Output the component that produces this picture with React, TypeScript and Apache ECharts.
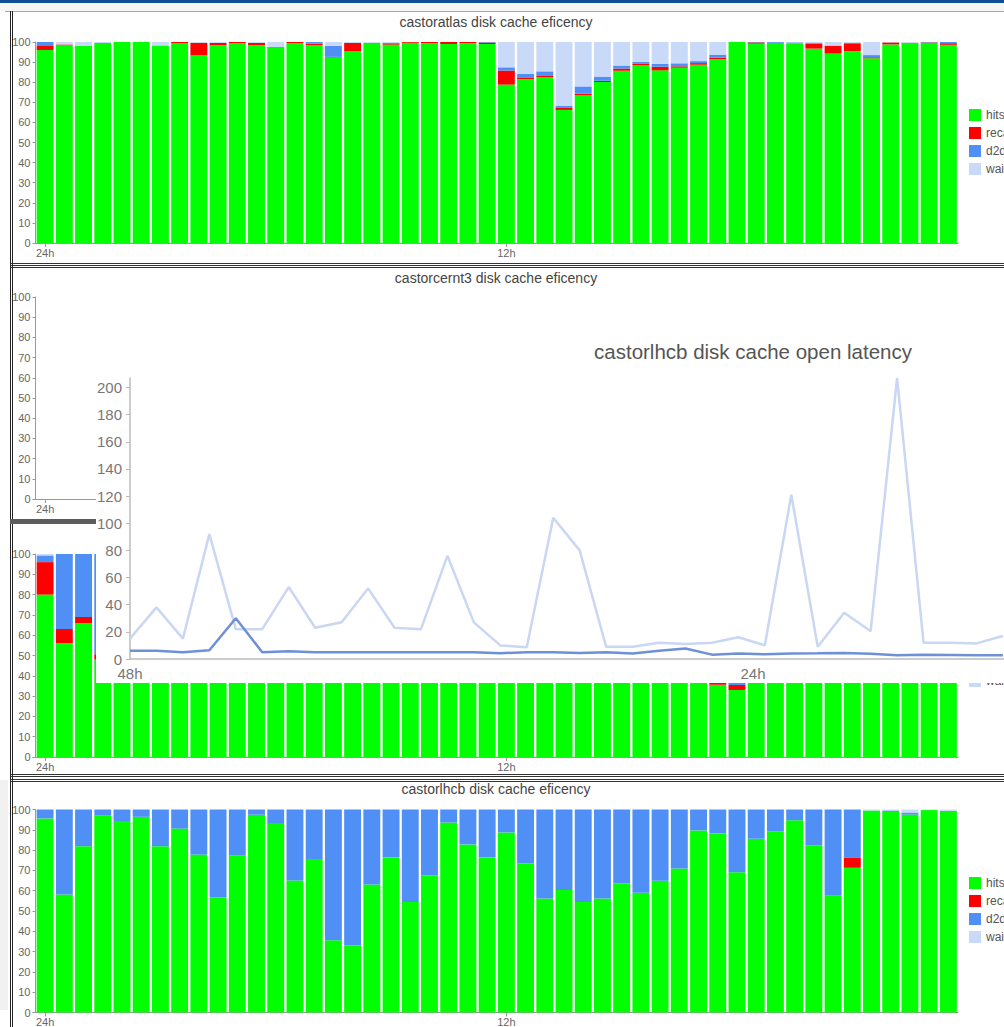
import React, { useEffect, useRef } from "react";
import * as echarts from "echarts";

const FONT = "'Liberation Sans', Arial, Helvetica, sans-serif";

// ---- efficiency panels: 48 half-hour slots, 24h ago -> now ----
const slotLabels: string[] = Array.from({ length: 48 }, (_, i) => `${24 - i / 2}h`);
const SHOWN_SLOTS = [0, 24];

const seriesNames = ["hits", "recalls", "d2d", "wait"];
const seriesColors = ["#00ff00", "#ff0000", "#5090f6", "#c8daf7"];
const effTicks = [0, 10, 20, 30, 40, 50, 60, 70, 80, 90, 100];

// castoratlas
const atlasHits = [96, 98.5, 98, 99.5, 100, 100, 98, 99.5, 93.3, 98.5, 99.5, 98.5, 97.5, 99.5, 98.5, 92.3, 95.3, 99.6, 98.7, 99.6, 99.5, 99, 99.5, 99,
  78.8, 81.6, 82.6, 66.2, 73.6, 80.1, 85.7, 88.4, 85.9, 87.2, 88.7, 91.4, 100, 99.2, 99.6, 99.4, 96.7, 94.2, 95.4, 91.9, 98.8, 99.3, 99.6, 98.6];
const atlasRecalls = [2, 0.3, 0, 0, 0, 0, 0.2, 0.5, 6.3, 1, 0.5, 1, 0, 0.5, 0.7, 0.3, 4.2, 0, 0.7, 0.4, 0.5, 1, 0.5, 0.7,
  7, 0.8, 0.5, 1, 0.7, 0.6, 1.1, 0.7, 1.8, 0.7, 0.8, 0.8, 0, 0.6, 0, 0, 2.5, 4, 4, 0.5, 1, 0.3, 0.2, 0.8];
const atlasD2d = [2, 0, 0, 0, 0, 0, 0, 0, 0, 0, 0, 0, 0, 0, 0.8, 5.5, 0, 0, 0, 0, 0, 0, 0, 0.3,
  1.6, 1.8, 2.3, 1.1, 3.6, 2.1, 1.5, 1, 1.5, 1.5, 1, 1.5, 0, 0.2, 0.4, 0.4, 0.3, 0, 0, 1.1, 0, 0, 0.2, 0.6];
const atlasWait = [0, 1.2, 2, 0.5, 0, 0, 1.8, 0, 0.4, 0.5, 0, 0.5, 2.5, 0, 0, 1.9, 0.5, 0.4, 0.6, 0, 0, 0, 0, 0,
  12.6, 15.8, 14.6, 31.7, 22.1, 17.2, 11.7, 9.9, 10.8, 10.6, 9.5, 6.3, 0, 0, 0, 0.2, 0.5, 1.8, 0.6, 6.5, 0.2, 0.4, 0, 0];

// castorcernt3 (no data shown)
const cernt3Hits: number[] = [];
const cernt3Recalls: number[] = [];
const cernt3D2d: number[] = [];
const cernt3Wait: number[] = [];

// third panel (mostly hidden behind the latency chart)
const p3Hits = [80, 56, 66, 48, 62, 71, 84, 77, 90, 58, 69, 88, 93, 75, 64, 81, 86, 72, 95, 68, 79, 91, 60, 83,
  74, 87, 92, 70, 66, 85, 78, 94, 89, 73, 82, 35.6, 33, 88, 96, 76, 84, 91, 67, 80, 93, 86, 97, 90];
const p3Recalls = [16, 7, 3, 2.6, 0, 0, 0, 0, 0, 0, 0, 0, 0, 0, 0, 0, 0, 0, 0, 0, 0, 0, 0, 0,
  0, 0, 0, 0, 0, 0, 0, 0, 0, 0, 0, 3, 2.5, 0, 0, 0, 0, 0, 0, 0, 0, 0, 0, 0];
const p3D2d = [3.3, 37, 31, 49.4, 38, 29, 16, 23, 10, 42, 31, 12, 7, 25, 36, 19, 14, 28, 5, 32, 21, 9, 40, 17,
  26, 13, 8, 30, 34, 15, 22, 6, 11, 27, 18, 61.4, 64.5, 12, 4, 24, 16, 9, 33, 20, 7, 14, 3, 10];
const p3Wait = [0.7, 0, 0, 0, 0, 0, 0, 0, 0, 0, 0, 0, 0, 0, 0, 0, 0, 0, 0, 0, 0, 0, 0, 0,
  0, 0, 0, 0, 0, 0, 0, 0, 0, 0, 0, 0, 0, 0, 0, 0, 0, 0, 0, 0, 0, 0, 0, 0];

// castorlhcb
const lhcbHits = [95.6, 58.1, 81.9, 97, 94.3, 96.4, 81.9, 90.6, 77.8, 56.6, 77.3, 97.4, 92.9, 65, 75.2, 35.6, 33, 63, 76.4, 54.4, 67.5, 93.6, 82.8, 76.4,
  88.7, 73.4, 56.2, 60.3, 54.4, 56.2, 63.5, 59, 64.9, 70.9, 89.7, 88.2, 69.1, 85.6, 89.3, 94.7, 82.4, 57.5, 71.3, 99.5, 98.8, 97.5, 99.7, 99.3];
const lhcbRecalls = [0, 0, 0, 0, 0, 0, 0, 0, 0, 0, 0, 0, 0, 0, 0, 0, 0, 0, 0, 0, 0, 0, 0, 0,
  0, 0, 0, 0, 0, 0, 0, 0, 0, 0, 0, 0, 0, 0, 0, 0, 0, 0, 5.1, 0, 0, 0, 0, 0];
const lhcbD2d = [4.4, 41.9, 18.1, 3, 5.7, 3.6, 18.1, 9.4, 22.2, 43.4, 22.7, 2.6, 7.1, 35, 24.8, 64.4, 67, 37, 23.6, 45.6, 32.5, 6.4, 17.2, 23.6,
  11.3, 26.6, 43.8, 39.7, 45.6, 43.8, 36.5, 41, 35.1, 29.1, 10.3, 11.8, 30.9, 14.4, 10.7, 5.3, 17.6, 42.5, 23.6, 0, 0.7, 1, 0, 0];
const lhcbWait = [0, 0, 0, 0, 0, 0, 0, 0, 0, 0, 0, 0, 0, 0, 0, 0, 0, 0, 0, 0, 0, 0, 0, 0,
  0, 0, 0, 0, 0, 0, 0, 0, 0, 0, 0, 0, 0, 0, 0, 0, 0, 0, 0, 0.5, 0.5, 1.5, 0.3, 0.7];

// ---- latency chart (hours, 48h ago -> now) ----
const LATENCY_STEP_H = 1.019;
const latencyPeak = [15, 38, 15, 92, 22, 22, 53, 23, 27, 52, 23, 22, 76, 27, 10, 8.6, 104, 80, 9, 9, 12, 11, 12, 16, 10, 121, 9, 34, 20.5, 207, 12, 12, 11.5, 17];
const latencyMean = [6, 6, 5, 6.4, 30, 5, 5.7, 5, 5, 5, 5, 5, 5, 5, 4.3, 5, 5, 4.5, 5, 4, 6, 7.7, 3.2, 4, 3.5, 4, 4.2, 4.5, 3.8, 2.7, 3.2, 3, 2.7, 2.7];
const latencyTicks = [0, 20, 40, 60, 80, 100, 120, 140, 160, 180, 200];
const latencyXLabels = [0, 24, 48];

type Panel = {
  title: string | null;
  titleTop: number;
  top: number;
  height: number;
  legendTop: number | null;
  data: number[][];
};

const panels: Panel[] = [
  { title: "castoratlas disk cache eficency", titleTop: 15, top: 42, height: 201, legendTop: 109, data: [atlasHits, atlasRecalls, atlasD2d, atlasWait] },
  { title: "castorcernt3 disk cache eficency", titleTop: 271, top: 297, height: 202, legendTop: null, data: [cernt3Hits, cernt3Recalls, cernt3D2d, cernt3Wait] },
  { title: null, titleTop: 0, top: 554, height: 203, legendTop: 621, data: [p3Hits, p3Recalls, p3D2d, p3Wait] },
  { title: "castorlhcb disk cache eficency", titleTop: 782, top: 809.5, height: 203, legendTop: 877, data: [lhcbHits, lhcbRecalls, lhcbD2d, lhcbWait] },
];

function buildEfficiencyOption() {
  const grid: any[] = [];
  const xAxis: any[] = [];
  const yAxis: any[] = [];
  const series: any[] = [];
  const title: any[] = [];
  const legend: any[] = [];
  const showSlot = (i: number) => SHOWN_SLOTS.includes(i);

  panels.forEach((p, k) => {
    grid.push({ left: 35.5, width: 922.5, top: p.top, height: p.height, containLabel: false, outerBoundsMode: "none" });
    xAxis.push({
      type: "category",
      gridIndex: k,
      data: slotLabels,
      boundaryGap: true,
      axisLine: { show: true, lineStyle: { color: "#999", width: 1 } },
      axisTick: { show: true, alignWithLabel: true, interval: (i: number) => showSlot(i), length: 4, lineStyle: { color: "#999" } },
      axisLabel: { interval: (i: number) => showSlot(i), fontSize: 11, color: "#666", margin: 4, fontFamily: FONT },
      splitLine: { show: false },
    });
    yAxis.push({
      type: "value",
      gridIndex: k,
      min: 0,
      max: 100,
      interval: 10,
      axisLine: { show: true, lineStyle: { color: "#999", width: 1 } },
      axisTick: { show: true, length: 3, lineStyle: { color: "#999" }, customValues: effTicks },
      axisLabel: { fontSize: 11, color: "#666", margin: 5, fontFamily: FONT, customValues: effTicks },
      splitLine: { show: false },
    });
    seriesNames.forEach((name, j) => {
      series.push({
        type: "bar",
        name,
        xAxisIndex: k,
        yAxisIndex: k,
        stack: "panel" + k,
        data: p.data[j],
        barCategoryGap: "12%",
        itemStyle: { color: seriesColors[j] },
        emphasis: { disabled: true },
      });
    });
    if (p.title) {
      title.push({
        text: p.title,
        left: 496,
        top: p.titleTop,
        textAlign: "center",
        padding: 0,
        textStyle: { fontSize: 14, fontWeight: "normal", color: "#444", fontFamily: FONT },
      });
    }
    if (p.legendTop !== null) {
      legend.push({
        data: seriesNames,
        orient: "vertical",
        left: 969,
        top: p.legendTop,
        padding: 0,
        itemGap: 6,
        itemWidth: 12,
        itemHeight: 12,
        icon: "rect",
        selectedMode: false,
        textStyle: { fontSize: 12, color: "#555", fontFamily: FONT },
      });
    }
  });

  return {
    animation: false,
    textStyle: { fontFamily: FONT },
    title,
    legend,
    grid,
    xAxis,
    yAxis,
    series,
  };
}

function buildLatencyOption() {
  return {
    animation: false,
    textStyle: { fontFamily: FONT },
    title: {
      text: "castorlhcb disk cache open latency",
      left: 657,
      top: 41,
      textAlign: "center",
      padding: 0,
      textStyle: { fontSize: 20.5, fontWeight: "normal", color: "#555", fontFamily: FONT },
    },
    grid: { left: 34, top: 78, width: 1246, height: 281, containLabel: false, outerBoundsMode: "none" },
    xAxis: {
      type: "value",
      min: 0,
      max: 48,
      interval: 24,
      axisLine: { show: true, lineStyle: { color: "#bbb", width: 1.5 } },
      axisTick: { show: false },
      splitLine: { show: false },
      axisLabel: {
        customValues: latencyXLabels,
        formatter: (v: number) => `${48 - v}h`,
        fontSize: 15,
        color: "#777",
        margin: 7,
        fontFamily: FONT,
      },
    },
    yAxis: {
      type: "value",
      min: 0,
      max: 207,
      interval: 20,
      axisLine: { show: true, lineStyle: { color: "#bbb", width: 1.5 } },
      axisTick: { show: true, length: 4, lineStyle: { color: "#bbb" }, customValues: latencyTicks },
      axisLabel: { customValues: latencyTicks, fontSize: 15, color: "#777", margin: 8, fontFamily: FONT },
      splitLine: { show: false },
    },
    series: [
      {
        type: "line",
        name: "peak open latency",
        data: latencyPeak.map((v, i) => [i * LATENCY_STEP_H, v]),
        symbol: "none",
        lineStyle: { color: "#c9d7f3", width: 2.5 },
        emphasis: { disabled: true },
        z: 2,
      },
      {
        type: "line",
        name: "mean open latency",
        data: latencyMean.map((v, i) => [i * LATENCY_STEP_H, v]),
        symbol: "none",
        lineStyle: { color: "#6d90d6", width: 2.5 },
        emphasis: { disabled: true },
        z: 3,
      },
    ],
  };
}

function Rect(props: { x: number; y: number; w: number; h: number; c: string }) {
  return (
    <div
      style={{ position: "absolute", left: props.x, top: props.y, width: props.w, height: props.h, background: props.c }}
    />
  );
}

export default function App() {
  const mainRef = useRef<HTMLDivElement>(null);
  const overlayRef = useRef<HTMLDivElement>(null);

  useEffect(() => {
    const main = echarts.init(mainRef.current as HTMLDivElement, undefined, { renderer: "svg" });
    main.setOption(buildEfficiencyOption() as any);
    const ov = echarts.init(overlayRef.current as HTMLDivElement, undefined, { renderer: "svg" });
    ov.setOption(buildLatencyOption() as any);
    return () => {
      main.dispose();
      ov.dispose();
    };
  }, []);

  return (
    <div
      style={{ position: "fixed", left: 0, top: 0, width: 1004, height: 1027, overflow: "hidden", background: "#fff" }}
    >
      {/* page frame */}
      <Rect x={0} y={0} w={1004} h={3} c="#0d4e94" />
      <Rect x={0} y={3} w={1004} h={8} c="#f6f6f6" />
      <Rect x={5} y={11} w={999} h={1} c="#a8a8a8" />
      <Rect x={0} y={780} w={8} h={230} c="#f1f1f1" />
      <Rect x={10} y={11} w={1} h={1016} c="#222" />
      <Rect x={12} y={11} w={1} h={1016} c="#222" />
      {/* separators between panels */}
      <Rect x={10} y={263} w={994} h={1} c="#333" />
      <Rect x={10} y={265} w={994} h={1} c="#333" />
      <Rect x={10} y={267} w={994} h={1} c="#333" />
      <Rect x={10} y={519} w={994} h={5} c="#5c5c5c" />
      <Rect x={10} y={774} w={994} h={1} c="#333" />
      <Rect x={10} y={776} w={994} h={1} c="#333" />
      <Rect x={10} y={779} w={994} h={1} c="#333" />
      <Rect x={10} y={781} w={994} h={1} c="#333" />

      <div ref={mainRef} style={{ position: "absolute", left: 0, top: 0, width: 1004, height: 1027 }} />

      {/* pasted latency chart */}
      <div
        style={{ position: "absolute", left: 96, top: 300, width: 908, height: 383, overflow: "hidden", background: "#fff" }}
      >
        <div ref={overlayRef} style={{ width: 1300, height: 383 }} />
      </div>
    </div>
  );
}
